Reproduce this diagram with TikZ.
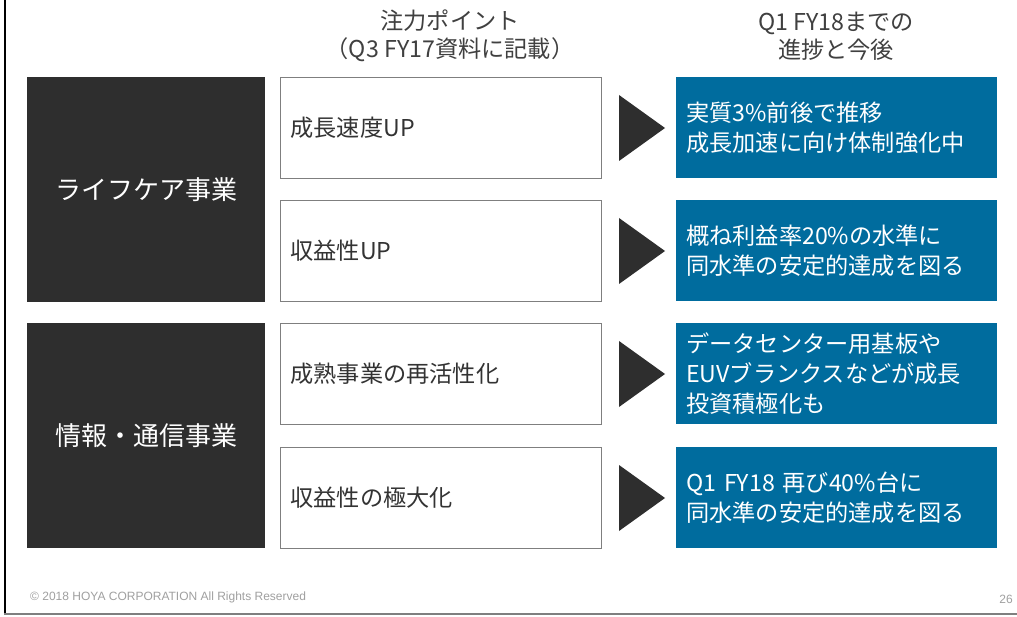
\documentclass[tikz,border=0pt]{standalone}
\usepackage{fontspec}
\usetikzlibrary{calc}
\setmainfont{Noto Sans CJK JP}
\newfontfamily\footfont{Liberation Sans}
\definecolor{darkbox}{HTML}{2E2E2E}
\definecolor{bluebox}{HTML}{006C9E}
\definecolor{headgray}{HTML}{404040}
\definecolor{boxtext}{HTML}{333333}
\definecolor{footgray}{HTML}{A0A0A0}
\definecolor{framegray}{HTML}{7F7F7F}
\tikzset{
  catbox/.style={fill=darkbox, draw=none, anchor=north west, minimum width=238pt, minimum height=225pt, text=white, font=\fontsize{26}{30}\selectfont, inner sep=0pt},
  pointbox/.style={draw=framegray, line width=1pt, fill=white, anchor=north west, text width=301pt, inner xsep=10pt, minimum height=101pt, align=left, text=boxtext, font=\fontsize{23.2}{30}\selectfont},
  resultbox/.style={fill=bluebox, draw=none, anchor=north west, text width=301pt, inner xsep=10pt, minimum height=101pt, align=left, text=white, font=\fontsize{23.2}{30}\selectfont},
  head/.style={text=headgray, align=center, font=\fontsize{23.2}{28}\selectfont},
  tri/.style={fill=darkbox, draw=none},
}
\begin{document}
\begin{tikzpicture}[x=1pt,y=-1pt]
\useasboundingbox (0,0) rectangle (1017,617);
\fill[white] (0,0) rectangle (1017,617);
% frame
\draw[black, line width=2pt] (5,0) -- (5,614);
\draw[framegray, line width=1.5pt] (4,614) -- (1017,614);
% headers
\node[head] (h1) at (450,36) {注力ポイント\\（Q3 FY17資料に記載）};
\node[head] (h2) at (836,36) {Q1 FY18までの\\進捗と今後};
% category boxes
\node[catbox] (c1) at (27,77) {ライフケア事業};
\node[catbox] (c2) at (27,323) {情報・通信事業};
% point boxes
\node[pointbox] (p1) at (280,77) {成長速度UP};
\node[pointbox] (p2) at (280,200) {収益性UP};
\node[pointbox] (p3) at (280,323) {成熟事業の再活性化};
\node[pointbox] (p4) at (280,447) {収益性の極大化};
% result boxes
\node[resultbox] (r1) at (676,77) {実質3\%前後で推移\\成長加速に向け体制強化中};
\node[resultbox] (r2) at (676,200) {概ね利益率20\%の水準に\\同水準の安定的達成を図る};
\node[resultbox] (r3) at (676,323) {データセンター用基板や\\EUVブランクスなどが成長\\投資積極化も};
\node[resultbox] (r4) at (676,447) {Q1 FY18 再び40\%台に\\同水準の安定的達成を図る};
% triangles
\foreach \p in {p1,p2,p3,p4}{
  \fill[tri] ($(\p.east)+(17,-33)$) -- ($(\p.east)+(63,0)$) -- ($(\p.east)+(17,33)$) -- cycle;
}
% footer
\node[anchor=west, text=footgray, font=\footfont\fontsize{12}{14}\selectfont, inner sep=0pt] (ft) at (30,597) {© 2018 HOYA CORPORATION All Rights Reserved};
\node[anchor=east, text=footgray, font=\footfont\fontsize{12}{14}\selectfont, inner sep=0pt] (pg) at (1013,599) {26};
\end{tikzpicture}
\end{document}
